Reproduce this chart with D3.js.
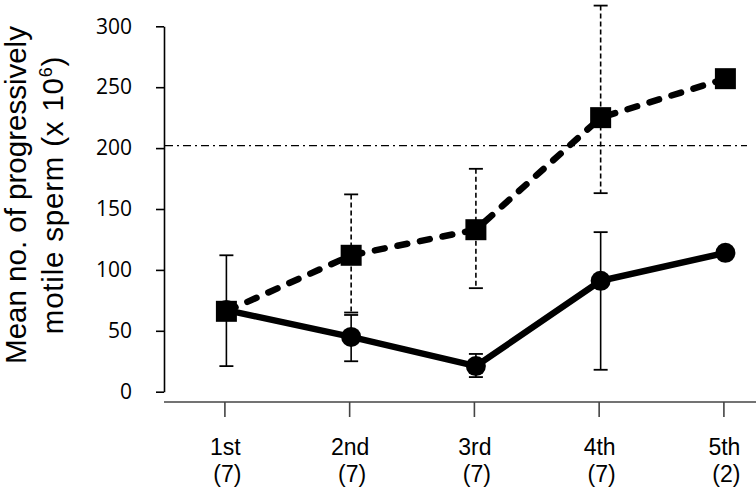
<!DOCTYPE html>
<html>
<head>
<meta charset="utf-8">
<script src="https://cdn.jsdelivr.net/npm/d3@7/dist/d3.min.js"></script>
<style>
  html, body { margin: 0; padding: 0; background: #fff; }
  svg { display: block; }
</style>
</head>
<body>
<svg id="chart" width="756" height="493"></svg>
<script>
// ---- data ----
const categories = ["1st", "2nd", "3rd", "4th", "5th"];
const nLabels = ["(7)", "(7)", "(7)", "(7)", "(2)"];
const yTicks = [0, 50, 100, 150, 200, 250, 300];

const squareMean  = [66, 112, 133, 225, 257];
const squareUpper = [null, 162, 183, 317, null];
const squareLower = [null, 65, 85, 163, null];

const circleMean  = [67, 45, 21, 91, 114];
const circleUpper = [112, 63, 31, 131, null];
const circleLower = [21, 25, 12, 18, null];

const referenceValue = 202;

// ---- layout ----
const svg = d3.select("#chart");
const x = d3.scalePoint().domain(categories).range([226.4, 725.4]);
const y = d3.scaleLinear().domain([0, 300]).range([391.7, 26.3]);
const axisX0 = 164, axisXEnd = 756, xAxisY = 402;

// y axis
const yAxis = svg.append("g")
  .attr("transform", `translate(${axisX0},0)`)
  .call(d3.axisLeft(y).tickValues(yTicks).tickSize(8).tickPadding(24).tickSizeOuter(0));
yAxis.select(".domain").attr("stroke", "#000").attr("stroke-width", 1.6);
yAxis.selectAll(".tick line").attr("stroke", "#000").attr("stroke-width", 1.6);
yAxis.selectAll(".tick text")
  .attr("font-family", "'Open Sans', sans-serif")
  .attr("font-size", 21)
  .attr("fill", "#000");

// x axis
const xAxis = svg.append("g")
  .attr("transform", `translate(0,${xAxisY})`)
  .call(d3.axisBottom(x).tickSize(15).tickSizeOuter(0).tickFormat(""));
xAxis.select(".domain").remove();
xAxis.append("line")
  .attr("x1", axisX0).attr("x2", axisXEnd)
  .attr("y1", 0).attr("y2", 0)
  .attr("stroke", "#444").attr("stroke-width", 1.6);
xAxis.selectAll(".tick line").attr("stroke", "#444").attr("stroke-width", 1.6)
  .attr("transform", "translate(-2,0)");

// x labels (two lines per category)
const xl = svg.append("g")
  .attr("font-family", "'Liberation Sans', Arial, sans-serif")
  .attr("font-size", 23)
  .attr("fill", "#000")
  .attr("text-anchor", "middle");
categories.forEach((c, i) => {
  xl.append("text").attr("x", x(c) - 1).attr("y", 455).text(c);
  xl.append("text").attr("x", x(c) + 1).attr("y", 482).text(nLabels[i]);
});

// y title
const title = svg.append("text")
  .attr("transform", "translate(0,195) rotate(-90)")
  .attr("text-anchor", "middle")
  .attr("font-family", "'Liberation Sans', Arial, sans-serif")
  .attr("font-size", 29.5)
  .attr("fill", "#000");
title.append("tspan").attr("x", 0).attr("y", 26).text("Mean no. of progressively");
const t2 = title.append("tspan").attr("x", 0).attr("y", 63).attr("letter-spacing", 0.8);
t2.append("tspan").text("motile sperm (x 10");
t2.append("tspan").attr("font-size", 18).attr("dy", -11).text("6");
t2.append("tspan").attr("dy", 11).text(")");

// reference line
svg.append("line")
  .attr("x1", axisX0 + 1).attr("x2", 747)
  .attr("y1", y(referenceValue)).attr("y2", y(referenceValue))
  .attr("stroke", "#000").attr("stroke-width", 1.1)
  .attr("stroke-dasharray", "8,4,2,4");

// helper: error bars
function errorBars(upper, lower, dashed) {
  const g = svg.append("g");
  categories.forEach((c, i) => {
    if (upper[i] == null || lower[i] == null) return;
    const cx = x(c);
    g.append("line")
      .attr("x1", cx).attr("x2", cx)
      .attr("y1", y(upper[i])).attr("y2", y(lower[i]))
      .attr("stroke", "#000").attr("stroke-width", 1.6)
      .attr("stroke-dasharray", dashed ? "5,3" : null);
    [upper[i], lower[i]].forEach(v => {
      g.append("line")
        .attr("x1", cx - 7).attr("x2", cx + 7)
        .attr("y1", y(v)).attr("y2", y(v))
        .attr("stroke", "#000").attr("stroke-width", 1.8);
    });
  });
}

const lineGen = d3.line().x((d, i) => x(categories[i])).y(d => y(d));

// circle series (solid)
errorBars(circleUpper, circleLower, false);
svg.append("path")
  .datum(circleMean)
  .attr("d", lineGen)
  .attr("fill", "none").attr("stroke", "#000").attr("stroke-width", 6.5);
svg.append("g").selectAll("circle")
  .data(circleMean).join("circle")
  .attr("cx", (d, i) => x(categories[i]))
  .attr("cy", d => y(d))
  .attr("r", 10)
  .attr("fill", "#000");

// square series (dashed)
errorBars(squareUpper, squareLower, true);
svg.append("path")
  .datum(squareMean)
  .attr("d", lineGen)
  .attr("fill", "none").attr("stroke", "#000").attr("stroke-width", 6.5)
  .attr("stroke-linecap", "round")
  .attr("stroke-dasharray", "10,13");
svg.append("g").selectAll("rect")
  .data(squareMean).join("rect")
  .attr("x", (d, i) => x(categories[i]) - 10.5)
  .attr("y", d => y(d) - 10.5)
  .attr("width", 21).attr("height", 21)
  .attr("fill", "#000");
</script>
</body>
</html>
